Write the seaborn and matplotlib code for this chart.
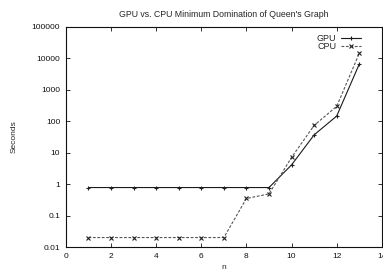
import numpy as np
import pandas as pd
import matplotlib
matplotlib.use("Agg")
import matplotlib.pyplot as plt
import seaborn as sns
from matplotlib.ticker import FixedLocator, FixedFormatter
from matplotlib.lines import Line2D

# ── Data ──────────────────────────────────────────────────────────────
n_vals = [1, 2, 3, 4, 5, 6, 7, 8, 9, 10, 11, 12, 13]
gpu_sec = [0.78, 0.78, 0.78, 0.78, 0.78, 0.78, 0.78, 0.78, 0.78, 4.1, 37, 147, 6600]
cpu_sec = [0.02, 0.02, 0.02, 0.02, 0.02, 0.02, 0.02, 0.35, 0.49, 7.1, 74, 300, 14500]
y_ticks = [0.01, 0.1, 1, 10, 100, 1000, 10000, 100000]
y_labels = ["0.01", "0.1", "1", "10", "100", "1000", "10000", "100000"]
x_ticks = [0, 2, 4, 6, 8, 10, 12, 14]

df = pd.DataFrame({
    "n": n_vals * 2,
    "Seconds": gpu_sec + cpu_sec,
    "device": ["GPU"] * len(n_vals) + ["CPU"] * len(n_vals),
})

sns.set_style("ticks")
plt.rcParams["font.family"] = ["Liberation Sans", "DejaVu Sans"]
plt.rcParams["font.size"] = 6

fig = plt.figure(figsize=(3.83, 2.74), dpi=100)
ax = fig.add_axes([0.172, 0.0985, 0.825, 0.803])

sns.lineplot(
    data=df, x="n", y="Seconds", hue="device", style="device",
    palette={"GPU": "#1a1a1a", "CPU": "#555555"},
    dashes={"GPU": "", "CPU": (2.5, 1.5)},
    markers={"GPU": "+", "CPU": "x"},
    markersize=3.2, markeredgewidth=0.8, markeredgecolor="#222222",
    linewidth=0.8, ax=ax, legend=False,
)
ax.set_yscale("log")
ax.set_xlim(0, 14)
ax.set_ylim(0.01, 100000)
ax.yaxis.set_major_locator(FixedLocator(y_ticks))
ax.yaxis.set_major_formatter(FixedFormatter(y_labels))
ax.yaxis.set_minor_locator(FixedLocator([]))
ax.set_xticks(x_ticks)
ax.set_xticklabels([str(t) for t in x_ticks])

ax.tick_params(direction="in", top=True, right=True, length=3, width=0.6,
               labelsize=6, pad=4, colors="#111111")
for sp in ax.spines.values():
    sp.set_linewidth(0.8)
    sp.set_color("#111111")

ax.set_xlabel("n", fontsize=6, labelpad=3)
ax.set_ylabel("Seconds", fontsize=6, labelpad=10)
ax.set_title("GPU vs. CPU Minimum Domination of Queen's Graph", fontsize=6.3, pad=7)

# gnuplot-style legend: text first, sample after
handles = [
    Line2D([], [], color="#1a1a1a", lw=0.8, marker="+", markersize=3.5, markeredgewidth=0.8),
    Line2D([], [], color="#555555", lw=0.8, ls=(0, (2.5, 1.5)), marker="x",
           markersize=2.5, markeredgewidth=0.8, markeredgecolor="#222222"),
]
ax.legend(handles, ["GPU", "CPU"], loc="upper right", markerfirst=False, frameon=False,
          fontsize=6.5, handlelength=2.2, handletextpad=0.5, labelspacing=-0.1,
          borderaxespad=0.0, bbox_to_anchor=(0.945, 0.985))

fig.savefig("out.png", dpi=100)
